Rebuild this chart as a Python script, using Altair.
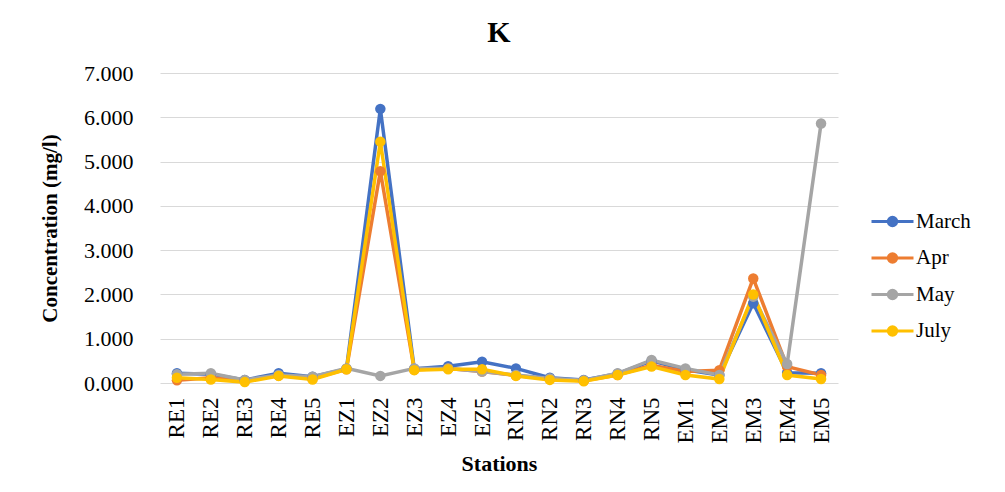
import altair as alt
import pandas as pd

stations = ["RE1", "RE2", "RE3", "RE4", "RE5", "EZ1", "EZ2", "EZ3", "EZ4", "EZ5",
            "RN1", "RN2", "RN3", "RN4", "RN5", "EM1", "EM2", "EM3", "EM4", "EM5"]
months = ["March", "Apr", "May", "July"]
march = [0.22, 0.20, 0.07, 0.22, 0.14, 0.32, 6.19, 0.32, 0.38, 0.48,
         0.33, 0.12, 0.07, 0.21, 0.50, 0.30, 0.18, 1.80, 0.23, 0.22]
apr = [0.06, 0.12, 0.05, 0.17, 0.10, 0.31, 4.78, 0.30, 0.33, 0.26,
       0.17, 0.09, 0.05, 0.18, 0.40, 0.26, 0.29, 2.36, 0.37, 0.18]
may = [0.20, 0.22, 0.07, 0.18, 0.14, 0.33, 0.16, 0.33, 0.33, 0.26,
       0.18, 0.10, 0.06, 0.22, 0.52, 0.33, 0.18, 1.95, 0.43, 5.86]
july = [0.12, 0.08, 0.02, 0.16, 0.08, 0.31, 5.45, 0.29, 0.31, 0.31,
        0.16, 0.07, 0.04, 0.18, 0.37, 0.18, 0.09, 2.00, 0.18, 0.09]
colors = ["#4472C4", "#ED7D31", "#A5A5A5", "#FFC000"]
y_ticks = [0, 1, 2, 3, 4, 5, 6, 7]

rows = []
for m, vals in zip(months, [march, apr, may, july]):
    for i, (s, v) in enumerate(zip(stations, vals)):
        rows.append({"Station": s, "Idx": i, "Month": m, "Value": v})
df = pd.DataFrame(rows)

FONT = "Liberation Serif"

color = alt.Color(
    "Month:N",
    scale=alt.Scale(domain=months, range=colors),
    sort=months,
    legend=alt.Legend(
        title=None,
        orient="none",
        legendX=717,
        legendY=133,
        labelFont=FONT,
        labelFontSize=21,
        labelColor="#000000",
        labelOffset=8,
        rowPadding=10.5,
        symbolType="M-1.5,0H1.5M0.3,0A0.3,0.3,0,1,1,-0.3,0A0.3,0.3,0,1,1,0.3,0",
        symbolSize=784,
        symbolStrokeWidth=3,
    ),
)

base = alt.Chart(df).encode(
    x=alt.X(
        "Station:N",
        sort=stations,
        scale=alt.Scale(type="point", padding=0.5),
        axis=alt.Axis(
            title="Stations",
            titleFont=FONT,
            titleFontSize=22,
            titleFontWeight="bold",
            titleColor="#000000",
            titlePadding=10,
            labelFont=FONT,
            labelFontSize=23,
            labelColor="#000000",
            labelAngle=270,
            labelPadding=14,
            ticks=False,
            domain=False,
            grid=False,
        ),
    ),
    y=alt.Y(
        "Value:Q",
        scale=alt.Scale(domain=[0, 7]),
        axis=alt.Axis(
            title="Concentration (mg/l)",
            titleFont=FONT,
            titleFontSize=21,
            titleFontWeight="bold",
            titleColor="#000000",
            titleX=-100,
            titleY=155,
            titleAngle=270,
            titleAlign="center",
            values=y_ticks,
            format=".3f",
            labelFont=FONT,
            labelFontSize=22,
            labelColor="#000000",
            labelPadding=27,
            ticks=False,
            domain=False,
            grid=True,
            gridColor="#D9D9D9",
            gridWidth=1.2,
        ),
    ),
    color=color,
    order=alt.Order("Idx:Q"),
)

lines = base.mark_line(strokeWidth=3.5).encode(detail="Month:N")
points = base.mark_point(filled=True, size=110, opacity=1)

chart = alt.layer(lines, points).properties(
    width=678,
    height=310,
    title=alt.TitleParams(
        "K", font=FONT, fontSize=30, fontWeight="bold", color="#000000",
        anchor="middle", offset=14,
    ),
    autosize=alt.AutoSizeParams(type="none"),
    padding={"left": 152, "top": 65, "right": 150, "bottom": 95},
).configure(background="#FFFFFF").configure_view(stroke=None)

chart.save("out.html", embed_options={"renderer": "svg", "actions": False})
